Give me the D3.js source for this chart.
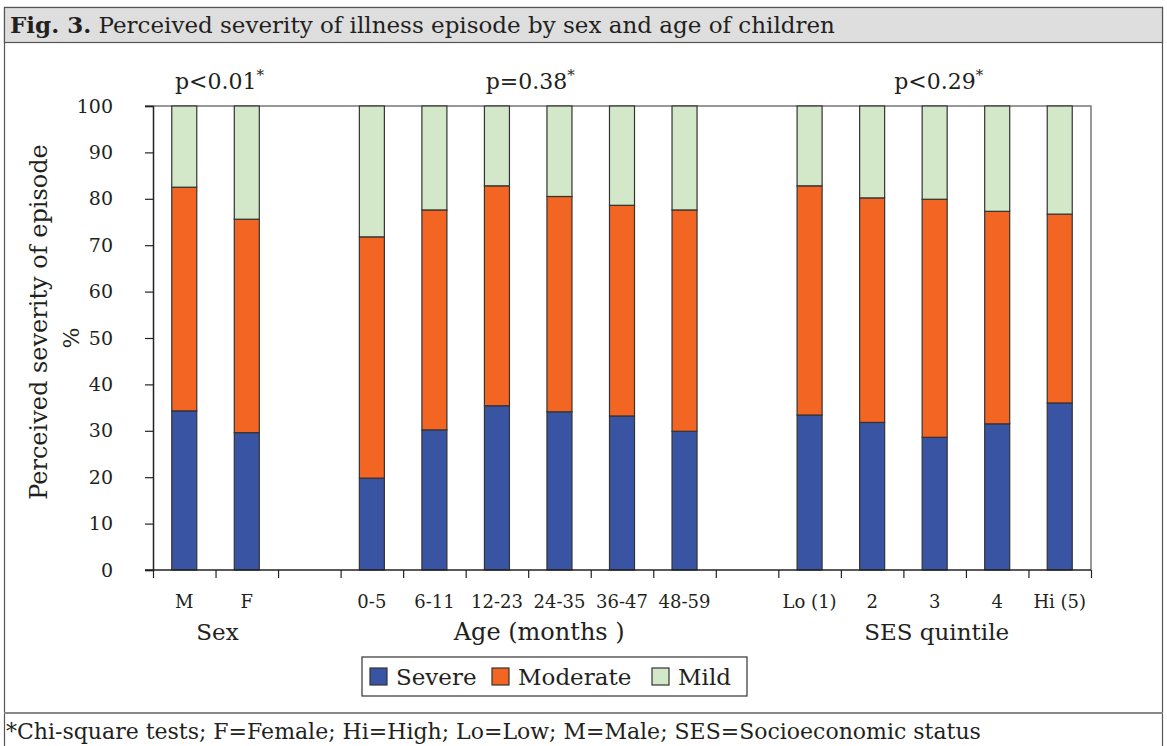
<!DOCTYPE html>
<html>
<head>
<meta charset="utf-8">
<script src="https://cdn.jsdelivr.net/npm/d3@7"></script>
<style>
  body { margin: 0; background: #fff; }
  svg text { font-family: "DejaVu Serif", serif; fill: #231f20; }
</style>
</head>
<body>
<div id="chart"></div>
<script>
var width = 1167;
var height = 746;

// slots along the x axis, empty ones are gaps between groups
var slots = ["M", "F", "gap1", "0-5", "6-11", "12-23", "24-35", "36-47", "48-59", "gap2", "Lo (1)", "2", "3", "4", "Hi (5)"];
var severe   = [34.3, 29.6, 0, 19.8, 30.2, 35.4, 34.1, 33.2, 29.9, 0, 33.4, 31.8, 28.6, 31.5, 36.0];
var moderate = [48.2, 46.0, 0, 52.0, 47.4, 47.4, 46.4, 45.4, 47.7, 0, 49.4, 48.4, 51.3, 45.8, 40.7];
var mild     = [17.5, 24.4, 0, 28.2, 22.4, 17.2, 19.5, 21.4, 22.4, 0, 17.2, 19.8, 20.1, 22.7, 23.3];

var groupNames = ["Sex", "Age (months )", "SES quintile"];
var groupMembers = [["M", "F"], ["0-5", "6-11", "12-23", "24-35", "36-47", "48-59"], ["Lo (1)", "2", "3", "4", "Hi (5)"]];
var groupP = ["p<0.01", "p=0.38", "p<0.29"];

var seriesNames = ["Severe", "Moderate", "Mild"];
var colours = {"Severe": "#3a54a4", "Moderate": "#f26522", "Mild": "#d3e8c8"};

var yTicks = [0, 10, 20, 30, 40, 50, 60, 70, 80, 90, 100];

var plot = {left: 153, right: 1091, top: 106, bottom: 570};

var svg = d3.select("#chart").append("svg")
    .attr("width", width)
    .attr("height", height);

// frame, title bar, footnote bar
svg.append("rect")
    .attr("x", 4.5).attr("y", 7.5)
    .attr("width", 1158).attr("height", 750)
    .attr("fill", "none").attr("stroke", "#555").attr("stroke-width", 1.2);
svg.append("rect")
    .attr("x", 4.5).attr("y", 7.5)
    .attr("width", 1158).attr("height", 35)
    .attr("fill", "#dedede").attr("stroke", "#555").attr("stroke-width", 1.2);
var title = svg.append("text")
    .attr("x", 10).attr("y", 33)
    .style("font-size", "23px");
title.append("tspan").style("font-weight", "bold").text("Fig. 3.");
title.append("tspan").text(" Perceived severity of illness episode by sex and age of children");

svg.append("line")
    .attr("x1", 4).attr("x2", 1163)
    .attr("y1", 713).attr("y2", 713)
    .attr("stroke", "#888").attr("stroke-width", 2);
svg.append("text")
    .attr("x", 6).attr("y", 739)
    .style("font-size", "22px")
    .text("*Chi-square tests; F=Female; Hi=High; Lo=Low; M=Male; SES=Socioeconomic status");

// scales
var x = d3.scaleBand()
    .domain(slots)
    .range([plot.left, plot.right])
    .paddingInner(0.6)
    .paddingOuter(0.3);
var xSlot = d3.scaleLinear()
    .domain([0, slots.length])
    .range([plot.left, plot.right]);
var y = d3.scaleLinear()
    .domain([0, 100])
    .range([plot.bottom, plot.top]);

// top and right border of plot area
svg.append("path")
    .attr("d", "M" + (plot.left - 8) + "," + y(100) + "H" + plot.right + "V" + y(0))
    .attr("fill", "none").attr("stroke", "#777").attr("stroke-width", 1.5);

// stacked bars
var table = slots.map(function(s, i) {
    return {slot: s, Severe: severe[i], Moderate: moderate[i], Mild: mild[i]};
}).filter(function(d) { return d.slot.indexOf("gap") !== 0; });

var stack = d3.stack().keys(seriesNames)(table);

svg.selectAll(".layer")
    .data(stack)
    .enter().append("g")
        .attr("class", "layer")
        .attr("fill", function(d) { return colours[d.key]; })
    .selectAll("rect")
    .data(function(d) { return d; })
    .enter().append("rect")
        .attr("x", function(d) { return x(d.data.slot); })
        .attr("width", x.bandwidth())
        .attr("y", function(d) { return y(d[1]); })
        .attr("height", function(d) { return y(d[0]) - y(d[1]); })
        .attr("stroke", "#333")
        .attr("stroke-width", 1.2);

// y axis
var yAxis = d3.axisLeft(y)
    .tickValues(yTicks)
    .tickSize(8)
    .tickPadding(32);
var gy = svg.append("g")
    .attr("transform", "translate(" + plot.left + ",0)")
    .call(yAxis);
gy.select(".domain").attr("stroke", "#222").attr("stroke-width", 1.5);
gy.selectAll(".tick line").attr("stroke", "#222").attr("stroke-width", 1.2);
gy.selectAll("text")
    .style("font-size", "19px")
    .style("font-family", "DejaVu Serif")
    .attr("fill", "#231f20");

// x axis: slot boundary ticks
var xAxis = d3.axisBottom(xSlot)
    .tickValues(d3.range(slots.length + 1))
    .tickSize(8)
    .tickFormat("");
var gx = svg.append("g")
    .attr("transform", "translate(0," + plot.bottom + ")")
    .call(xAxis);
gx.select(".domain").attr("stroke", "#222").attr("stroke-width", 1.5).attr("d", "M" + (plot.left - 8) + ",0H" + plot.right);
gx.selectAll(".tick line").attr("stroke", "#222").attr("stroke-width", 1.2);

// category labels
var catAxis = d3.axisBottom(x)
    .tickSize(0)
    .tickPadding(0)
    .tickFormat(function(d) { return d.indexOf("gap") === 0 ? "" : d; });
var gc = svg.append("g")
    .attr("transform", "translate(0," + plot.bottom + ")")
    .call(catAxis);
gc.select(".domain").remove();
gc.selectAll("text")
    .attr("dy", null)
    .attr("y", 38)
    .style("font-size", "18px")
    .style("font-family", "DejaVu Serif")
    .attr("fill", "#231f20");

// group labels and p values
groupNames.forEach(function(name, i) {
    var first = groupMembers[i][0];
    var last = groupMembers[i][groupMembers[i].length - 1];
    var cx = (x(first) + x(last) + x.bandwidth()) / 2;
    svg.append("text")
        .attr("x", cx + (i === 1 ? 11 : 2)).attr("y", 640)
        .attr("text-anchor", "middle")
        .style("font-size", i === 1 ? "24px" : "23px")
        .text(name);
    var pt = svg.append("text")
        .attr("x", cx + (i === 1 ? 2 : 4)).attr("y", 89)
        .attr("text-anchor", "middle")
        .style("font-size", "22px");
    pt.append("tspan").text(groupP[i]);
    pt.append("tspan").attr("dy", -9).style("font-size", "15px").text("*");
});

// y axis title
svg.append("text")
    .attr("transform", "translate(47,322) rotate(-90)")
    .attr("text-anchor", "middle")
    .style("font-size", "24px")
    .text("Perceived severity of episode");
svg.append("text")
    .attr("transform", "translate(79," + y(50) + ") rotate(-90)")
    .attr("text-anchor", "middle")
    .style("font-size", "22px")
    .text("%");

// legend
var legend = svg.append("g").attr("transform", "translate(362,657)");
legend.append("rect")
    .attr("width", 385).attr("height", 39)
    .attr("fill", "#fff").attr("stroke", "#333").attr("stroke-width", 1.2);
var legendX = [8, 130, 290];
var item = legend.selectAll(".item")
    .data(seriesNames)
    .enter().append("g")
    .attr("class", "item")
    .attr("transform", function(d, i) { return "translate(" + legendX[i] + ",11)"; });
item.append("rect")
    .attr("width", 17).attr("height", 17)
    .attr("fill", function(d) { return colours[d]; })
    .attr("stroke", "#333").attr("stroke-width", 1.2);
item.append("text")
    .attr("x", 26).attr("y", 17)
    .style("font-size", "23px")
    .text(function(d) { return d; });
</script>
</body>
</html>
